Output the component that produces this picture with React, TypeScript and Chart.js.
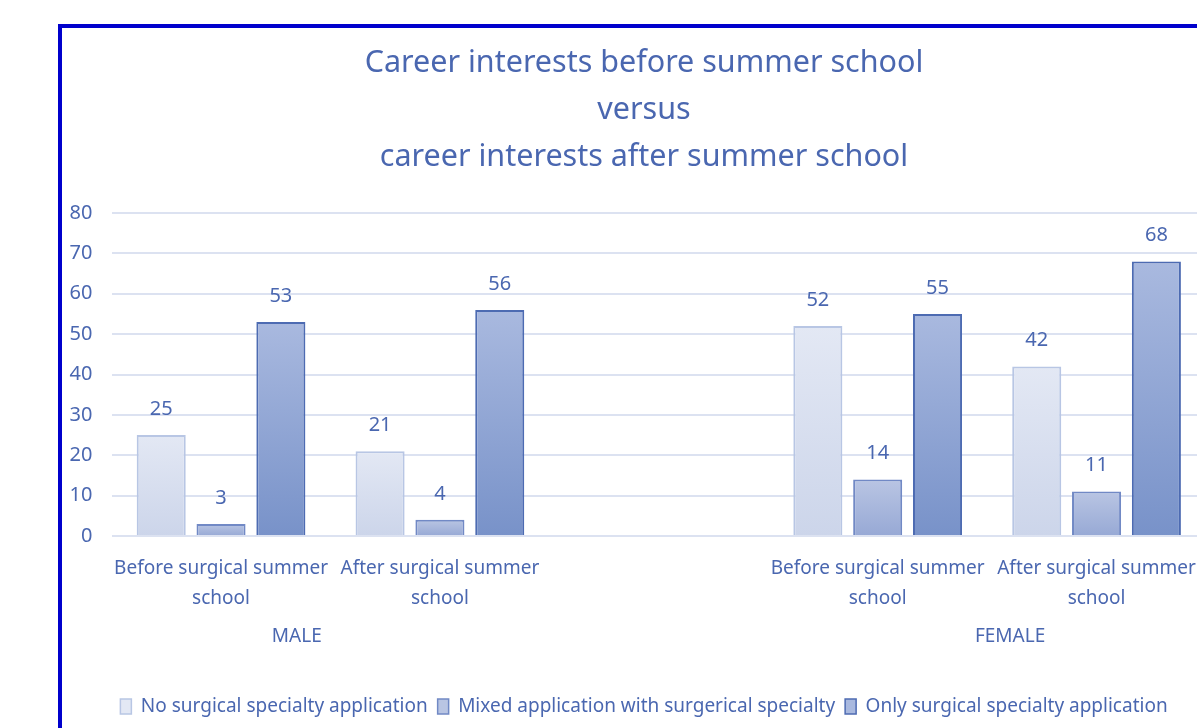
import React, { useEffect, useRef } from "react";
import { Chart, registerables } from "chart.js";

Chart.register(...registerables);

const titleLines = [
  "Career interests before summer school",
  "versus",
  "career interests after summer school",
];
const categories: (string | string[])[] = [
  ["Before surgical summer", "school"],
  ["After surgical summer", "school"],
  "",
  ["Before surgical summer", "school"],
  ["After surgical summer", "school"],
];
const groupLabels = ["MALE", "FEMALE"];
const groupAnchors = [0.346, 3.605];
const seriesNames = [
  "No surgical specialty application",
  "Mixed application with surgerical specialty",
  "Only surgical specialty application",
];
const noSurgical = [25, 21, null, 52, 42];
const mixedSurgical = [3, 4, null, 14, 11];
const onlySurgical = [53, 56, null, 55, 68];
const yTicks = [0, 10, 20, 30, 40, 50, 60, 70, 80];

const FONT = "'Noto Sans', sans-serif";
const TEXT = "#4a67b0";
const GRID = "#dce2f1";

const gradTop = ["#e3e8f4", "#b9c5e3", "#a9b9df"];
const gradBot = ["#ccd5ea", "#97a9d5", "#7892c9"];
const borders = ["#b8c6e4", "#7189c5", "#4d6bb2"];

function barFill(idx: number) {
  return (c: any) => {
    const chart = c.chart;
    const y = chart.scales?.y;
    if (!chart.chartArea || !y || c.raw == null || c.type !== "data") return gradBot[idx];
    const top = y.getPixelForValue(c.raw as number);
    const bot = y.getPixelForValue(0);
    const g = chart.ctx.createLinearGradient(0, top, 0, bot);
    g.addColorStop(0, gradTop[idx]);
    g.addColorStop(1, gradBot[idx]);
    return g;
  };
}

const labelPlugin = {
  id: "labelPlugin",
  afterDatasetsDraw(chart: any) {
    const ctx = chart.ctx;
    ctx.save();
    ctx.fillStyle = TEXT;
    ctx.font = `20px ${FONT}`;
    ctx.textAlign = "center";
    ctx.textBaseline = "middle";
    chart.data.datasets.forEach((ds: any, i: number) => {
      const meta = chart.getDatasetMeta(i);
      meta.data.forEach((bar: any, j: number) => {
        const v = ds.data[j];
        if (v == null) return;
        ctx.fillText(String(v), bar.x, bar.y - 26);
      });
    });
    ctx.restore();
  },
  afterDraw(chart: any) {
    const ctx = chart.ctx;
    const x = chart.scales.x;
    ctx.save();
    ctx.fillStyle = TEXT;
    ctx.font = `19px ${FONT}`;
    ctx.textAlign = "center";
    ctx.textBaseline = "middle";
    groupLabels.forEach((g, i) => {
      ctx.fillText(g, x.getPixelForValue(groupAnchors[i]), chart.chartArea.bottom + 101);
    });
    ctx.restore();
  },
};

export default function App() {
  const ref = useRef<HTMLCanvasElement>(null);
  useEffect(() => {
    const data = [noSurgical, mixedSurgical, onlySurgical];
    const chart = new Chart(ref.current!, {
      type: "bar",
      data: {
        labels: categories,
        datasets: data.map((d, i) => ({
          label: seriesNames[i],
          data: d,
          backgroundColor: barFill(i),
          borderColor: borders[i],
          borderWidth: 2,
          categoryPercentage: 0.82,
          barPercentage: 0.82,
        })),
      },
      options: {
        responsive: false,
        animation: false,
        layout: { padding: { left: 20, right: 20, top: 0, bottom: 2 } },
        plugins: {
          title: {
            display: true,
            text: titleLines,
            color: TEXT,
            font: { family: FONT, size: 30.5, weight: "normal", lineHeight: 1.541 },
            padding: { top: 12, bottom: 32 },
          },
          legend: {
            position: "bottom",
            labels: {
              color: TEXT,
              font: { family: FONT, size: 19 },
              boxWidth: 11,
              boxHeight: 15,
              padding: 10,
              generateLabels: () =>
                seriesNames.map((n, i) => ({
                  text: n,
                  fillStyle: gradTop[i],
                  strokeStyle: borders[i],
                  lineWidth: 1.5,
                  fontColor: TEXT,
                  datasetIndex: i,
                  hidden: false,
                })),
            },
          },
          tooltip: { enabled: false },
        },
        scales: {
          x: {
            grid: { display: false, drawTicks: false },
            border: { display: false },
            ticks: {
              color: TEXT,
              font: { family: FONT, size: 19, lineHeight: 1.6 },
              padding: 17,
              maxRotation: 0,
              autoSkip: false,
            },
            afterFit: (s: any) => {
              s.height = 151;
            },
          },
          y: {
            min: 0,
            max: 80,
            afterBuildTicks: (s: any) => {
              s.ticks = yTicks.map((v) => ({ value: v }));
            },
            grid: { color: GRID, lineWidth: 2, drawTicks: false },
            border: { display: false },
            ticks: {
              color: TEXT,
              font: { family: FONT, size: 20 },
              mirror: true,
              crossAlign: "far",
              padding: -42,
            },
            afterFit: (s: any) => {
              s.width = 29.6;
            },
          },
        },
      },
      plugins: [labelPlugin],
    } as any);
    return () => chart.destroy();
  }, []);
  return (
    <div
      style={{
        position: "fixed",
        left: 0,
        top: 0,
        width: 1197,
        height: 728,
        overflow: "hidden",
        background: "#ffffff",
      }}
    >
      <div
        style={{
          position: "absolute",
          left: 58,
          top: 24,
          width: 1260,
          height: 800,
          border: "4px solid #0000cc",
          boxSizing: "border-box",
        }}
      />
      <div style={{ position: "absolute", left: 62, top: 28, width: 1164, height: 700 }}>
        <canvas ref={ref} width={1164} height={700} style={{ display: "block", width: 1164, height: 700 }} />
      </div>
    </div>
  );
}
